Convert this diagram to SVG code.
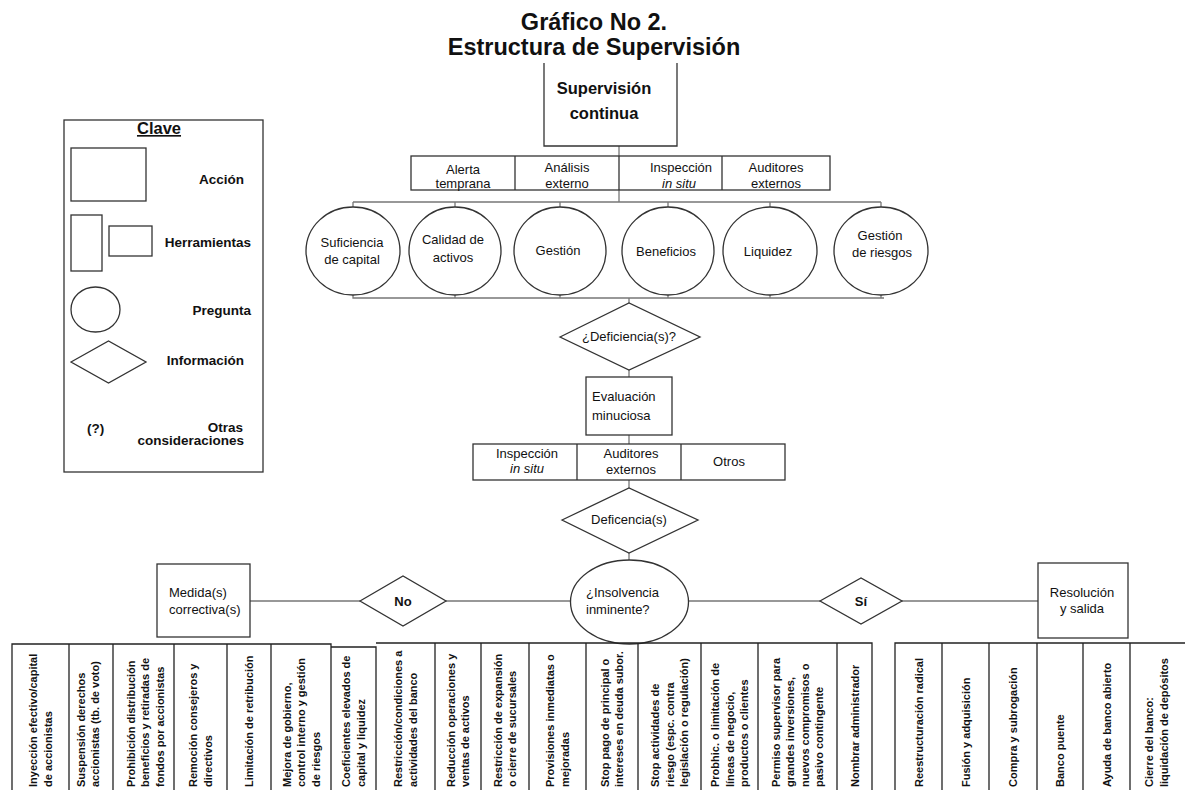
<svg xmlns="http://www.w3.org/2000/svg" width="1185" height="790" viewBox="0 0 1185 790">
<style>
text{font-family:"Liberation Sans",Arial,sans-serif;fill:#111}
.c{text-anchor:middle}
.e{text-anchor:end}
.b{font-weight:bold}
.f13{font-size:13px}
.leg{font-size:13.5px;font-weight:bold}
.v{font-size:11px;font-weight:bold}
.s{fill:#fff;stroke:#333;stroke-width:1.3}
.cn{fill:none;stroke:#777;stroke-width:1.3}
.tb{fill:none;stroke:#222;stroke-width:1.3}
</style>
<rect width="1185" height="790" fill="#fff"/>
<g id="title">
<text class="c b" x="594" y="30" font-size="23.5">Gráfico No 2.</text>
<text class="c b" x="594" y="55" font-size="23.5">Estructura de Supervisión</text>
</g>
<g id="legend">
<rect class="s" x="64" y="120" width="199" height="352"/>
<text class="c b" x="159" y="134" font-size="16.5" text-decoration="underline">Clave</text>
<rect class="s" x="71" y="148" width="75" height="53"/>
<text class="leg e" x="244" y="184">Acción</text>
<rect class="s" x="71" y="215" width="31" height="56"/>
<rect class="s" x="109" y="226" width="43" height="30"/>
<text class="leg e" x="251" y="247">Herramientas</text>
<ellipse class="s" cx="95.5" cy="309.5" rx="24.5" ry="22.5"/>
<text class="leg e" x="251" y="315">Pregunta</text>
<polygon class="s" points="71,362 108.5,341 146,362 108.5,383"/>
<text class="leg e" x="244" y="365">Información</text>
<text class="leg" x="87" y="433">(?)</text>
<text class="leg e" x="243" y="432">Otras</text>
<text class="leg e" x="244" y="445">consideraciones</text>
</g>
<g id="connectors">
<path class="cn" d="M619,146V156M619,190V202M353,202H881M353,202V207M455,202V207M560,202V207M668,202V207M770,202V207M881,202V207"/>
<path class="cn" d="M353,295V298H884M455,295V298M560,295V298M668,295V298M770,295V298M881,295V298M629,298V303"/>
<path class="cn" d="M629,370V377M629,435V444M629,480V488M629,553V560"/>
<path class="cn" d="M250,601H360M446,601H571M688,601H820M902,601H1038"/>
</g>
<g id="supervision-continua">
<path class="s" d="M544,63V146H677V63"/>
<text class="c b" x="604" y="94" font-size="16.5">Supervisión</text>
<text class="c b" x="604" y="119" font-size="16.5">continua</text>
</g>
<g id="herramientas-1">
<rect class="s" x="411" y="156" width="419" height="34"/>
<path class="s" d="M515,156V190M619,156V190M722,156V190"/>
<text class="c f13" x="463" y="174">Alerta</text>
<text class="c f13" x="463" y="188">temprana</text>
<text class="c f13" x="567" y="172">Análisis</text>
<text class="c f13" x="567" y="188">externo</text>
<text class="c f13" x="681" y="172">Inspección</text>
<text class="c f13" x="679" y="188" font-style="italic">in  situ</text>
<text class="c f13" x="776" y="172">Auditores</text>
<text class="c f13" x="776" y="188">externos</text>
</g>
<g id="suficiencia">
<ellipse class="s" cx="353" cy="251" rx="47" ry="44"/>
<text class="c f13" x="352" y="247">Suficiencia</text>
<text class="c f13" x="352" y="264">de capital</text>
</g>
<g id="calidad">
<ellipse class="s" cx="455" cy="251" rx="46" ry="44"/>
<text class="c f13" x="453" y="244">Calidad de</text>
<text class="c f13" x="453" y="262">activos</text>
</g>
<g id="gestion">
<ellipse class="s" cx="560" cy="251" rx="46" ry="44"/>
<text class="c f13" x="558" y="255">Gestión</text>
</g>
<g id="beneficios">
<ellipse class="s" cx="668" cy="251" rx="46" ry="44"/>
<text class="c f13" x="666" y="256">Beneficios</text>
</g>
<g id="liquidez">
<ellipse class="s" cx="770" cy="251" rx="47" ry="44"/>
<text class="c f13" x="768" y="256">Liquidez</text>
</g>
<g id="gestion-riesgos">
<ellipse class="s" cx="881" cy="251" rx="47" ry="44"/>
<text class="c f13" x="880" y="240">Gestión</text>
<text class="c f13" x="882" y="257">de riesgos</text>
</g>
<g id="deficiencias-1">
<polygon class="s" points="560,337 629,303 700,337 629,370"/>
<text class="c f13" x="629" y="341">¿Deficiencia(s)?</text>
</g>
<g id="evaluacion">
<rect class="s" x="586" y="377" width="86" height="58"/>
<text class="f13" x="592" y="401">Evaluación</text>
<text class="f13" x="592" y="420">minuciosa</text>
</g>
<g id="herramientas-2">
<rect class="s" x="473" y="444" width="312" height="36"/>
<path class="s" d="M577,444V480M681,444V480"/>
<text class="c f13" x="527" y="458">Inspección</text>
<text class="c f13" x="527" y="473" font-style="italic">in situ</text>
<text class="c f13" x="631" y="458">Auditores</text>
<text class="c f13" x="631" y="474">externos</text>
<text class="c f13" x="729" y="466">Otros</text>
</g>
<g id="deficiencias-2">
<polygon class="s" points="562,520 629,488 698,520 629,553"/>
<text class="c f13" x="629" y="524">Deficencia(s)</text>
</g>
<g id="insolvencia">
<ellipse class="s" cx="629.5" cy="602" rx="59" ry="42"/>
<text class="f13" x="586" y="597">¿Insolvencia</text>
<text class="f13" x="586" y="614">inminente?</text>
</g>
<g id="medidas">
<rect class="s" x="157" y="564" width="93" height="73"/>
<text class="f13" x="169" y="597">Medida(s)</text>
<text class="f13" x="169" y="614">correctiva(s)</text>
</g>
<g id="no">
<polygon class="s" points="360,601 403,576 446,601 403,626"/>
<text class="c f13 b" x="403" y="606">No</text>
</g>
<g id="si">
<polygon class="s" points="820,601 861,578 902,601 861,624"/>
<text class="c f13 b" x="861" y="606">Sí</text>
</g>
<g id="resolucion">
<rect class="s" x="1038" y="563" width="90" height="75"/>
<text class="c f13" x="1082" y="597">Resolución</text>
<text class="c f13" x="1082" y="613">y salida</text>
</g>
<g id="medidas-lista">
<path class="tb" d="M12,790V644H331V790M69,644V790M113,644V790M174,644V790M227,644V790M271,644V790"/>
<path class="tb" d="M331,647H376V790"/>
<path class="tb" d="M376,643H872V790M435,643V790M481,643V790M529,643V790M586,643V790M638,643V790M701,643V790M758,643V790M837,643V790"/>
<text class="v" transform="translate(40.5,787) rotate(-90)"><tspan x="0" y="-3.3">Inyección efectivo/capital</tspan><tspan x="0" y="11.2">de accionistas</tspan></text>
<text class="v" transform="translate(88,787) rotate(-90)"><tspan x="0" y="-3.3">Suspensión derechos</tspan><tspan x="0" y="11.2">accionistas (tb. de voto)</tspan></text>
<text class="v" transform="translate(145,787) rotate(-90)"><tspan x="0" y="-10.5">Prohibición distribución</tspan><tspan x="0" y="4">beneficios y retiradas de</tspan><tspan x="0" y="18.5">fondos por accionistas</tspan></text>
<text class="v" transform="translate(200.5,787) rotate(-90)"><tspan x="0" y="-3.3">Remoción consejeros y</tspan><tspan x="0" y="11.2">directivos</tspan></text>
<text class="v" transform="translate(249,787) rotate(-90)"><tspan x="0" y="4">Limitación de retribución</tspan></text>
<text class="v" transform="translate(301,787) rotate(-90)"><tspan x="0" y="-10.5">Mejora de gobierno,</tspan><tspan x="0" y="4">control interno y gestión</tspan><tspan x="0" y="18.5">de riesgos</tspan></text>
<text class="v" transform="translate(353.5,787) rotate(-90)"><tspan x="0" y="-3.3">Coeficientes elevados de</tspan><tspan x="0" y="11.2">capital y liquidez</tspan></text>
<text class="v" transform="translate(405.5,787) rotate(-90)"><tspan x="0" y="-3.3">Restricción/condiciones a</tspan><tspan x="0" y="11.2">actividades del banco</tspan></text>
<text class="v" transform="translate(458,787) rotate(-90)"><tspan x="0" y="-3.3">Reducción operaciones y</tspan><tspan x="0" y="11.2">ventas de activos</tspan></text>
<text class="v" transform="translate(505,787) rotate(-90)"><tspan x="0" y="-3.3">Restricción de expansión</tspan><tspan x="0" y="11.2">o cierre de sucursales</tspan></text>
<text class="v" transform="translate(557.5,787) rotate(-90)"><tspan x="0" y="-3.3">Provisiones inmediatas o</tspan><tspan x="0" y="11.2">mejoradas</tspan></text>
<text class="v" transform="translate(612,787) rotate(-90)"><tspan x="0" y="-3.3">Stop pago de principal o</tspan><tspan x="0" y="11.2">intereses en deuda subor.</tspan></text>
<text class="v" transform="translate(669.5,787) rotate(-90)"><tspan x="0" y="-10.5">Stop actividades de</tspan><tspan x="0" y="4">riesgo (espc. contra</tspan><tspan x="0" y="18.5">legislación o regulación)</tspan></text>
<text class="v" transform="translate(729.5,787) rotate(-90)"><tspan x="0" y="-10.5">Probhic. o limitación de</tspan><tspan x="0" y="4">líneas de negocio,</tspan><tspan x="0" y="18.5">productos o clientes</tspan></text>
<text class="v" transform="translate(797.5,787) rotate(-90)"><tspan x="0" y="-17.8">Permiso supervisor para</tspan><tspan x="0" y="-3.3">grandes inversiones,</tspan><tspan x="0" y="11.2">nuevos compromisos o</tspan><tspan x="0" y="25.7">pasivo  contingente</tspan></text>
<text class="v" transform="translate(854.5,787) rotate(-90)"><tspan x="0" y="4">Nombrar administrador</tspan></text>
</g>
<g id="resolucion-lista">
<path class="tb" d="M895,790V643H1185M942,643V790M989,643V790M1037,643V790M1083,643V790M1130,643V790"/>
<text class="v" transform="translate(918.5,787) rotate(-90)"><tspan x="0" y="4">Reestructuración radical</tspan></text>
<text class="v" transform="translate(965.5,787) rotate(-90)"><tspan x="0" y="4">Fusión y adquisición</tspan></text>
<text class="v" transform="translate(1013,787) rotate(-90)"><tspan x="0" y="4">Compra y subrogación</tspan></text>
<text class="v" transform="translate(1060,787) rotate(-90)"><tspan x="0" y="4">Banco puente</tspan></text>
<text class="v" transform="translate(1106.5,787) rotate(-90)"><tspan x="0" y="4">Ayuda de banco abierto</tspan></text>
<text class="v" transform="translate(1156.5,787) rotate(-90)"><tspan x="0" y="-3.3">Cierre del banco:</tspan><tspan x="0" y="11.2">liquidación de depósitos</tspan></text>
</g>
</svg>
